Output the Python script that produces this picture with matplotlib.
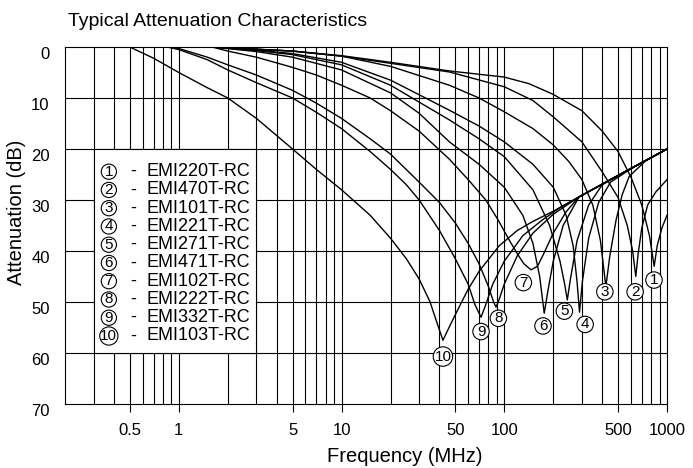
import numpy as np
import matplotlib.pyplot as plt
import matplotlib.transforms as mtransforms
from matplotlib.patches import Rectangle
from matplotlib.ticker import FixedLocator, NullFormatter, NullLocator

plt.rcParams['font.family'] = ['Liberation Sans', 'DejaVu Sans']

# curve data (frequency in MHz, attenuation in dB)
f1 = [1.6, 5, 10, 20, 46, 100, 142, 200, 300, 400, 500, 600, 700, 780, 834, 870, 930, 1000]
a1 = [0, 0.8, 1.7, 3.0, 4.7, 5.9, 7.2, 9.3, 12.5, 16.5, 20.5, 25.5, 31, 37, 43, 39, 35.5, 33]

f2 = [1.6, 5, 10, 20, 46, 100, 150, 200, 300, 400, 500, 570, 615, 643, 665, 700, 760, 850, 1000]
a2 = [0, 0.8, 1.8, 3.2, 4.9, 7.8, 10.5, 13.7, 18.6, 24.5, 29.5, 35, 40, 45, 40.5, 35.5, 31, 28.5, 26]

f3 = [1.6, 5, 10, 20, 46, 70, 100, 150, 200, 250, 300, 350, 390, 421, 445, 486, 530, 585, 740, 1000]
a3 = [0, 0.8, 1.8, 3.8, 7.5, 10, 12.7, 16, 19.2, 22.5, 26, 31, 38, 47, 41, 34, 29, 25.4, 22.3, 20]

f4 = [1.6, 3, 5, 10, 20, 46, 70, 100, 150, 200, 240, 265, 280, 290, 302, 330, 380, 450, 600, 1000]
a4 = [0, 0.6, 1.3, 3, 6.5, 12.4, 15.5, 18.6, 23, 27.5, 33, 39, 46, 52, 46, 37.5, 30.5, 26.5, 23.9, 20]

f5 = [1.6, 3, 5, 10, 20, 46, 70, 100, 150, 190, 220, 235, 244, 255, 280, 330, 400, 500, 1000]
a5 = [0, 0.7, 1.5, 3.5, 7.5, 14.3, 18, 21.5, 28, 35, 42, 46.5, 49.6, 45.5, 38, 31, 27, 25.2, 20]

f6 = [1.6, 3, 5, 10, 20, 30, 46, 70, 100, 130, 150, 165, 176, 185, 200, 230, 288, 500, 1000]
a6 = [0, 0.9, 2, 4.5, 9, 13, 18.6, 23, 27.5, 33, 38.5, 45, 52.2, 48, 42, 35, 29.4, 25.2, 20]

f7 = [1.6, 2, 3, 5, 7, 10, 15, 20, 30, 46, 60, 77, 92, 107, 120, 132, 146, 160, 175, 200, 240, 288, 500, 1000]
a7 = [0, 0.8, 2, 4, 5.5, 7.5, 10, 12.5, 16.5, 22, 26, 30, 34, 37.8, 40.5, 42.5, 43.7, 43, 40.5, 36.5, 32.3, 29.4, 25.2, 20]

f8 = [0.85, 1, 1.5, 2, 3, 5, 7, 10, 15, 20, 30, 40, 50, 60, 70, 80, 86, 89, 93, 100, 120, 150, 200, 288, 500, 1000]
a8 = [0, 0.3, 2, 3.5, 5.5, 8.5, 11, 14, 18, 21, 26.5, 30.5, 34.5, 38.5, 42.5, 47, 50, 51, 49.5, 46.5, 41, 36.5, 32.8, 29.4, 25.2, 20]

f9 = [0.85, 1, 1.5, 2, 3, 5, 7, 10, 15, 20, 25, 30, 40, 50, 60, 66, 72, 77, 85, 100, 130, 170, 220, 288, 500, 1000]
a9 = [0, 0.5, 2.5, 4.5, 7, 10, 12.8, 16, 20.5, 24, 27, 30, 36, 41.5, 46.5, 50.5, 53, 50.5, 46.5, 42, 37, 34, 31.5, 29.4, 25.2, 20]

f10 = [0.5, 0.7, 1, 1.5, 2, 3, 5, 7, 10, 15, 20, 25, 30, 35, 39, 42, 45, 50, 60, 70, 93, 120, 150, 200, 288, 500, 1000]
a10 = [0, 2.2, 5, 8, 10, 14, 20, 24, 28, 33, 37.5, 41.5, 45.5, 50, 54.5, 57.5, 55.5, 52.5, 47.5, 44, 39, 36, 34.2, 32.2, 29.4, 25.2, 20]

part_names = ['EMI220T-RC', 'EMI470T-RC', 'EMI101T-RC', 'EMI221T-RC', 'EMI271T-RC',
              'EMI471T-RC', 'EMI102T-RC', 'EMI222T-RC', 'EMI332T-RC', 'EMI103T-RC']
# where the circled numbers sit next to each dip
label_f = [832, 637, 415, 314, 234, 173, 131, 92, 72, 42]
label_db = [45.7, 48, 48, 54.4, 51.8, 54.7, 46.2, 53.2, 55.8, 60.7]

x_ticks = [0.5, 1, 5, 10, 50, 100, 500, 1000]
x_ticklabels = ['0.5', '1', '5', '10', '50', '100', '500', '1000']
y_ticks = [0, 10, 20, 30, 40, 50, 60, 70]

freqs = [f1, f2, f3, f4, f5, f6, f7, f8, f9, f10]
atts = [a1, a2, a3, a4, a5, a6, a7, a8, a9, a10]

fig = plt.figure(figsize=(6.93, 4.68), dpi=100)
ax = fig.add_axes([0.0938, 0.1368, 0.8687, 0.7628])
ax.set_xscale('log')
ax.set_xlim(0.2, 1000)
ax.set_ylim(70, 0)

# vertical grid at every 1..9 x decade, horizontal every 10 dB
grid_x = [m * 10.0 ** e for e in range(-1, 3) for m in range(1, 10)]
grid_x = [g for g in grid_x if 0.2 < g < 1000]
for g in grid_x:
    ax.axvline(g, color='black', lw=0.8, zorder=1)
for y in y_ticks[1:-1]:
    ax.axhline(y, color='black', lw=0.8, zorder=1)

for f, a in zip(freqs, atts):
    ax.plot(f, a, color='black', lw=1.0, zorder=3)

# legend box
ax.add_patch(Rectangle((0.3, 20), 2.7, 40, facecolor='white', edgecolor='black',
                       lw=0.8, zorder=4))
for i, name in enumerate(part_names):
    yy = 24.45 + 3.58 * i
    ax.text(0.372, yy, str(i + 1), ha='center', va='center', fontsize=11, zorder=5,
            bbox=dict(boxstyle='circle,pad=0.04', fc='white', ec='black', lw=0.8))
    ax.text(0.522, yy, '-', ha='center', va='center', fontsize=13, zorder=5)
    ax.text(0.636, yy, name, ha='left', va='center', fontsize=13, zorder=5)

for i in range(10):
    ax.text(label_f[i], label_db[i], str(i + 1), ha='center', va='center', fontsize=11,
            zorder=6, bbox=dict(boxstyle='circle,pad=0.08', fc='white', ec='black', lw=0.8))

ax.xaxis.set_major_locator(FixedLocator(x_ticks))
ax.xaxis.set_minor_locator(NullLocator())
ax.xaxis.set_minor_formatter(NullFormatter())
ax.set_xticklabels(x_ticklabels)
ax.set_yticks(y_ticks)
ax.tick_params(axis='x', direction='out', length=6, width=0.8, labelsize=12, pad=8)
ax.tick_params(axis='y', length=0, labelsize=12, pad=11)
shift = mtransforms.ScaledTranslation(0, -4 / 72, fig.dpi_scale_trans)
for lab in ax.get_yticklabels():
    lab.set_transform(lab.get_transform() + shift)
for s in ax.spines.values():
    s.set_linewidth(0.8)

fig.text(405 / 693, 1 - 457 / 468, 'Frequency (MHz)', fontsize=14.5, ha='center', va='center')
fig.text(17 / 693, 1 - 212 / 468, 'Attenuation (dB)', fontsize=14.5, ha='center', va='center',
         rotation=90)
fig.text(68 / 693, 1 - 21 / 468, 'Typical Attenuation Characteristics', fontsize=14,
         ha='left', va='center')

fig.savefig('out.png', dpi=100)
